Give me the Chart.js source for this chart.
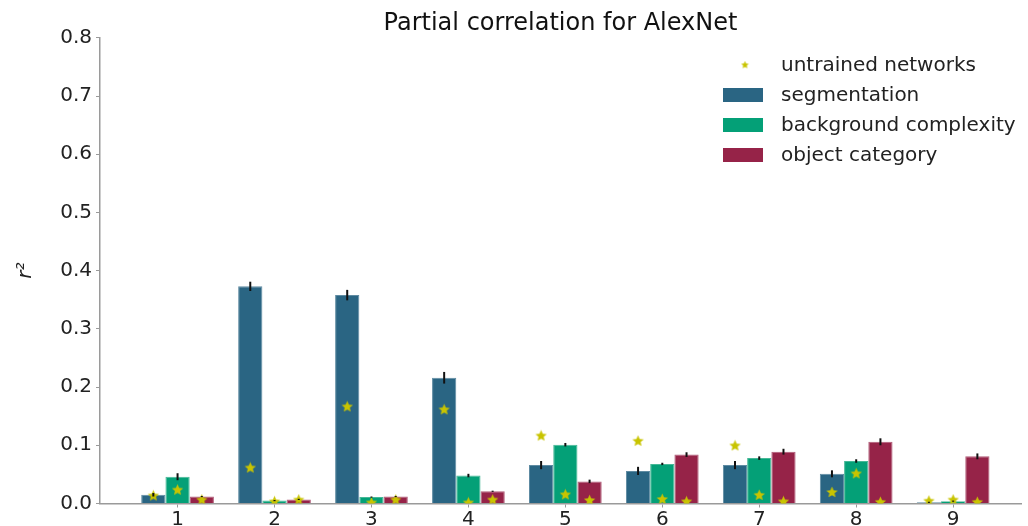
<!DOCTYPE html>
<html>
<head>
<meta charset="utf-8">
<script src="https://cdn.jsdelivr.net/npm/chart.js@4"></script>
<style>
  html, body { margin: 0; padding: 0; background: #fff; }
  #wrap { width: 1028px; height: 526px; }
</style>
</head>
<body>
<div id="wrap"><canvas id="myChart"></canvas></div>
<script>
// layers of AlexNet
const layers = [1, 2, 3, 4, 5, 6, 7, 8, 9];

// r^2 of trained network
const segmentation = [0.015, 0.373, 0.358, 0.216, 0.066, 0.056, 0.066, 0.051, 0.002];
const background   = [0.046, 0.005, 0.011, 0.048, 0.101, 0.068, 0.078, 0.073, 0.004];
const objCategory  = [0.012, 0.007, 0.012, 0.021, 0.038, 0.084, 0.089, 0.106, 0.081];

// error bar half widths
const segErr = [0.003, 0.008, 0.009, 0.010, 0.007, 0.007, 0.007, 0.006, 0.001];
const bgErr  = [0.006, 0.001, 0.001, 0.003, 0.003, 0.002, 0.003, 0.003, 0.001];
const objErr = [0.001, 0.001, 0.001, 0.001, 0.003, 0.004, 0.005, 0.006, 0.005];

// untrained networks, same three measures
const untrainedSeg = [0.013, 0.061, 0.166, 0.161, 0.116, 0.107, 0.099, 0.019, 0.004];
const untrainedBg  = [0.023, 0.003, 0.001, 0.001, 0.015, 0.007, 0.014, 0.051, 0.006];
const untrainedObj = [0.006, 0.006, 0.006, 0.006, 0.005, 0.003, 0.003, 0.002, 0.002];

const yTicks = [0, 0.1, 0.2, 0.3, 0.4, 0.5, 0.6, 0.7, 0.8];

const barWidth = 0.25;
const colors = ['#2a6583', '#04a077', '#962348'];
const edgeColors = ['#5f8ba2', '#45b896', '#b05b77'];
const starColor = '#c8c400';
const axisColor = '#9a9a9a';
const FONT = 'DejaVu Sans';

function starImage(size) {
  const c = document.createElement('canvas');
  c.width = size; c.height = size;
  const g = c.getContext('2d');
  const r = size / 2, ri = r * 0.42;
  g.beginPath();
  for (let i = 0; i < 10; i++) {
    const a = -Math.PI / 2 + i * Math.PI / 5;
    const rr = i % 2 ? ri : r - 0.5;
    g.lineTo(r + rr * Math.cos(a), r + rr * Math.sin(a));
  }
  g.closePath();
  g.fillStyle = starColor;
  g.fill();
  return c;
}
const bigStar = starImage(13);
const smallStar = starImage(9);

const barSets = [
  { label: 'segmentation', values: segmentation, err: segErr, untrained: untrainedSeg },
  { label: 'background complexity', values: background, err: bgErr, untrained: untrainedBg },
  { label: 'object category', values: objCategory, err: objErr, untrained: untrainedObj }
];

const datasets = barSets.map((s, k) => ({
  type: 'bar',
  label: s.label,
  data: layers.map((l, i) => ({ x: l, y: s.values[i] })),
  err: s.err,
  backgroundColor: colors[k],
  borderColor: edgeColors[k],
  borderWidth: 1,
  categoryPercentage: 0.75,
  barPercentage: 1,
  order: 1
}));

// stars sit at the centre of each bar
const starData = [];
barSets.forEach((s, k) => {
  layers.forEach((l, i) => starData.push({ x: l + (k - 1) * barWidth, y: s.untrained[i] }));
});
datasets.unshift({
  type: 'scatter',
  label: 'untrained networks',
  data: starData,
  pointStyle: bigStar,
  pointRadius: 6,
  order: 0
});

const errorBars = {
  id: 'errorBars',
  afterDatasetsDraw(chart) {
    const ctx = chart.ctx, y = chart.scales.y;
    ctx.save();
    ctx.strokeStyle = '#111';
    ctx.lineWidth = 2;
    chart.data.datasets.forEach((ds, di) => {
      if (ds.type !== 'bar') return;
      const meta = chart.getDatasetMeta(di);
      meta.data.forEach((bar, i) => {
        const v = ds.data[i].y, e = ds.err[i];
        ctx.beginPath();
        ctx.moveTo(bar.x, y.getPixelForValue(v - e));
        ctx.lineTo(bar.x, y.getPixelForValue(v + e));
        ctx.stroke();
      });
    });
    ctx.restore();
  }
};

const insideLegend = {
  id: 'insideLegend',
  afterDraw(chart) {
    const ctx = chart.ctx, area = chart.chartArea;
    const x0 = area.right - 298, y0 = 65, step = 30;
    ctx.save();
    ctx.font = '20px "' + FONT + '"';
    ctx.textBaseline = 'middle';
    ctx.fillStyle = '#222';
    chart.data.datasets.forEach((ds, i) => {
      const yy = y0 + i * step;
      if (ds.type === 'scatter') {
        ctx.drawImage(smallStar, x0 + 22 - 4.5, yy - 4.5);
      } else {
        ctx.fillStyle = ds.backgroundColor;
        ctx.fillRect(x0, yy - 7, 40, 14);
        ctx.fillStyle = '#222';
      }
      ctx.fillText(ds.label, x0 + 58, yy + 1);
    });
    ctx.restore();
  }
};

new Chart(document.getElementById('myChart'), {
  data: { datasets },
  options: {
    responsive: true,
    maintainAspectRatio: false,
    animation: false,
    layout: { padding: { left: 0, right: 3, top: 0, bottom: 0 } },
    plugins: {
      legend: { display: false },
      tooltip: { enabled: false },
      title: {
        display: true,
        fullSize: false,
        text: 'Partial correlation for AlexNet',
        color: '#111',
        font: { family: FONT, size: 24, weight: 'normal' },
        padding: { top: 9, bottom: 0 }
      }
    },
    scales: {
      x: {
        type: 'linear',
        min: 0.2,
        max: 9.7,
        offset: false,
        afterBuildTicks: s => { s.ticks = layers.map(v => ({ value: v })); },
        afterFit: s => { s.height = 22.5; },
        grid: { display: true, offset: false, drawOnChartArea: false, drawTicks: true, tickLength: 4, color: axisColor },
        border: { display: true, color: axisColor, width: 1.5 },
        ticks: { color: '#222', padding: 0, font: { family: FONT, size: 20 } }
      },
      y: {
        min: 0,
        max: 0.8,
        afterBuildTicks: s => { s.ticks = yTicks.map(v => ({ value: v })); },
        afterFit: s => { s.width = 100; },
        grid: { display: true, drawOnChartArea: false, drawTicks: true, tickLength: 4, color: axisColor },
        border: { display: true, color: axisColor, width: 1.5 },
        ticks: {
          color: '#222', padding: 4,
          font: { family: FONT, size: 20 },
          callback: v => v.toFixed(1)
        },
        title: {
          display: true,
          text: 'r²',
          color: '#222',
          font: { family: FONT, size: 20, style: 'italic' },
          padding: { top: 14, bottom: 0 }
        }
      }
    }
  },
  plugins: [errorBars, insideLegend]
});
</script>
</body>
</html>
